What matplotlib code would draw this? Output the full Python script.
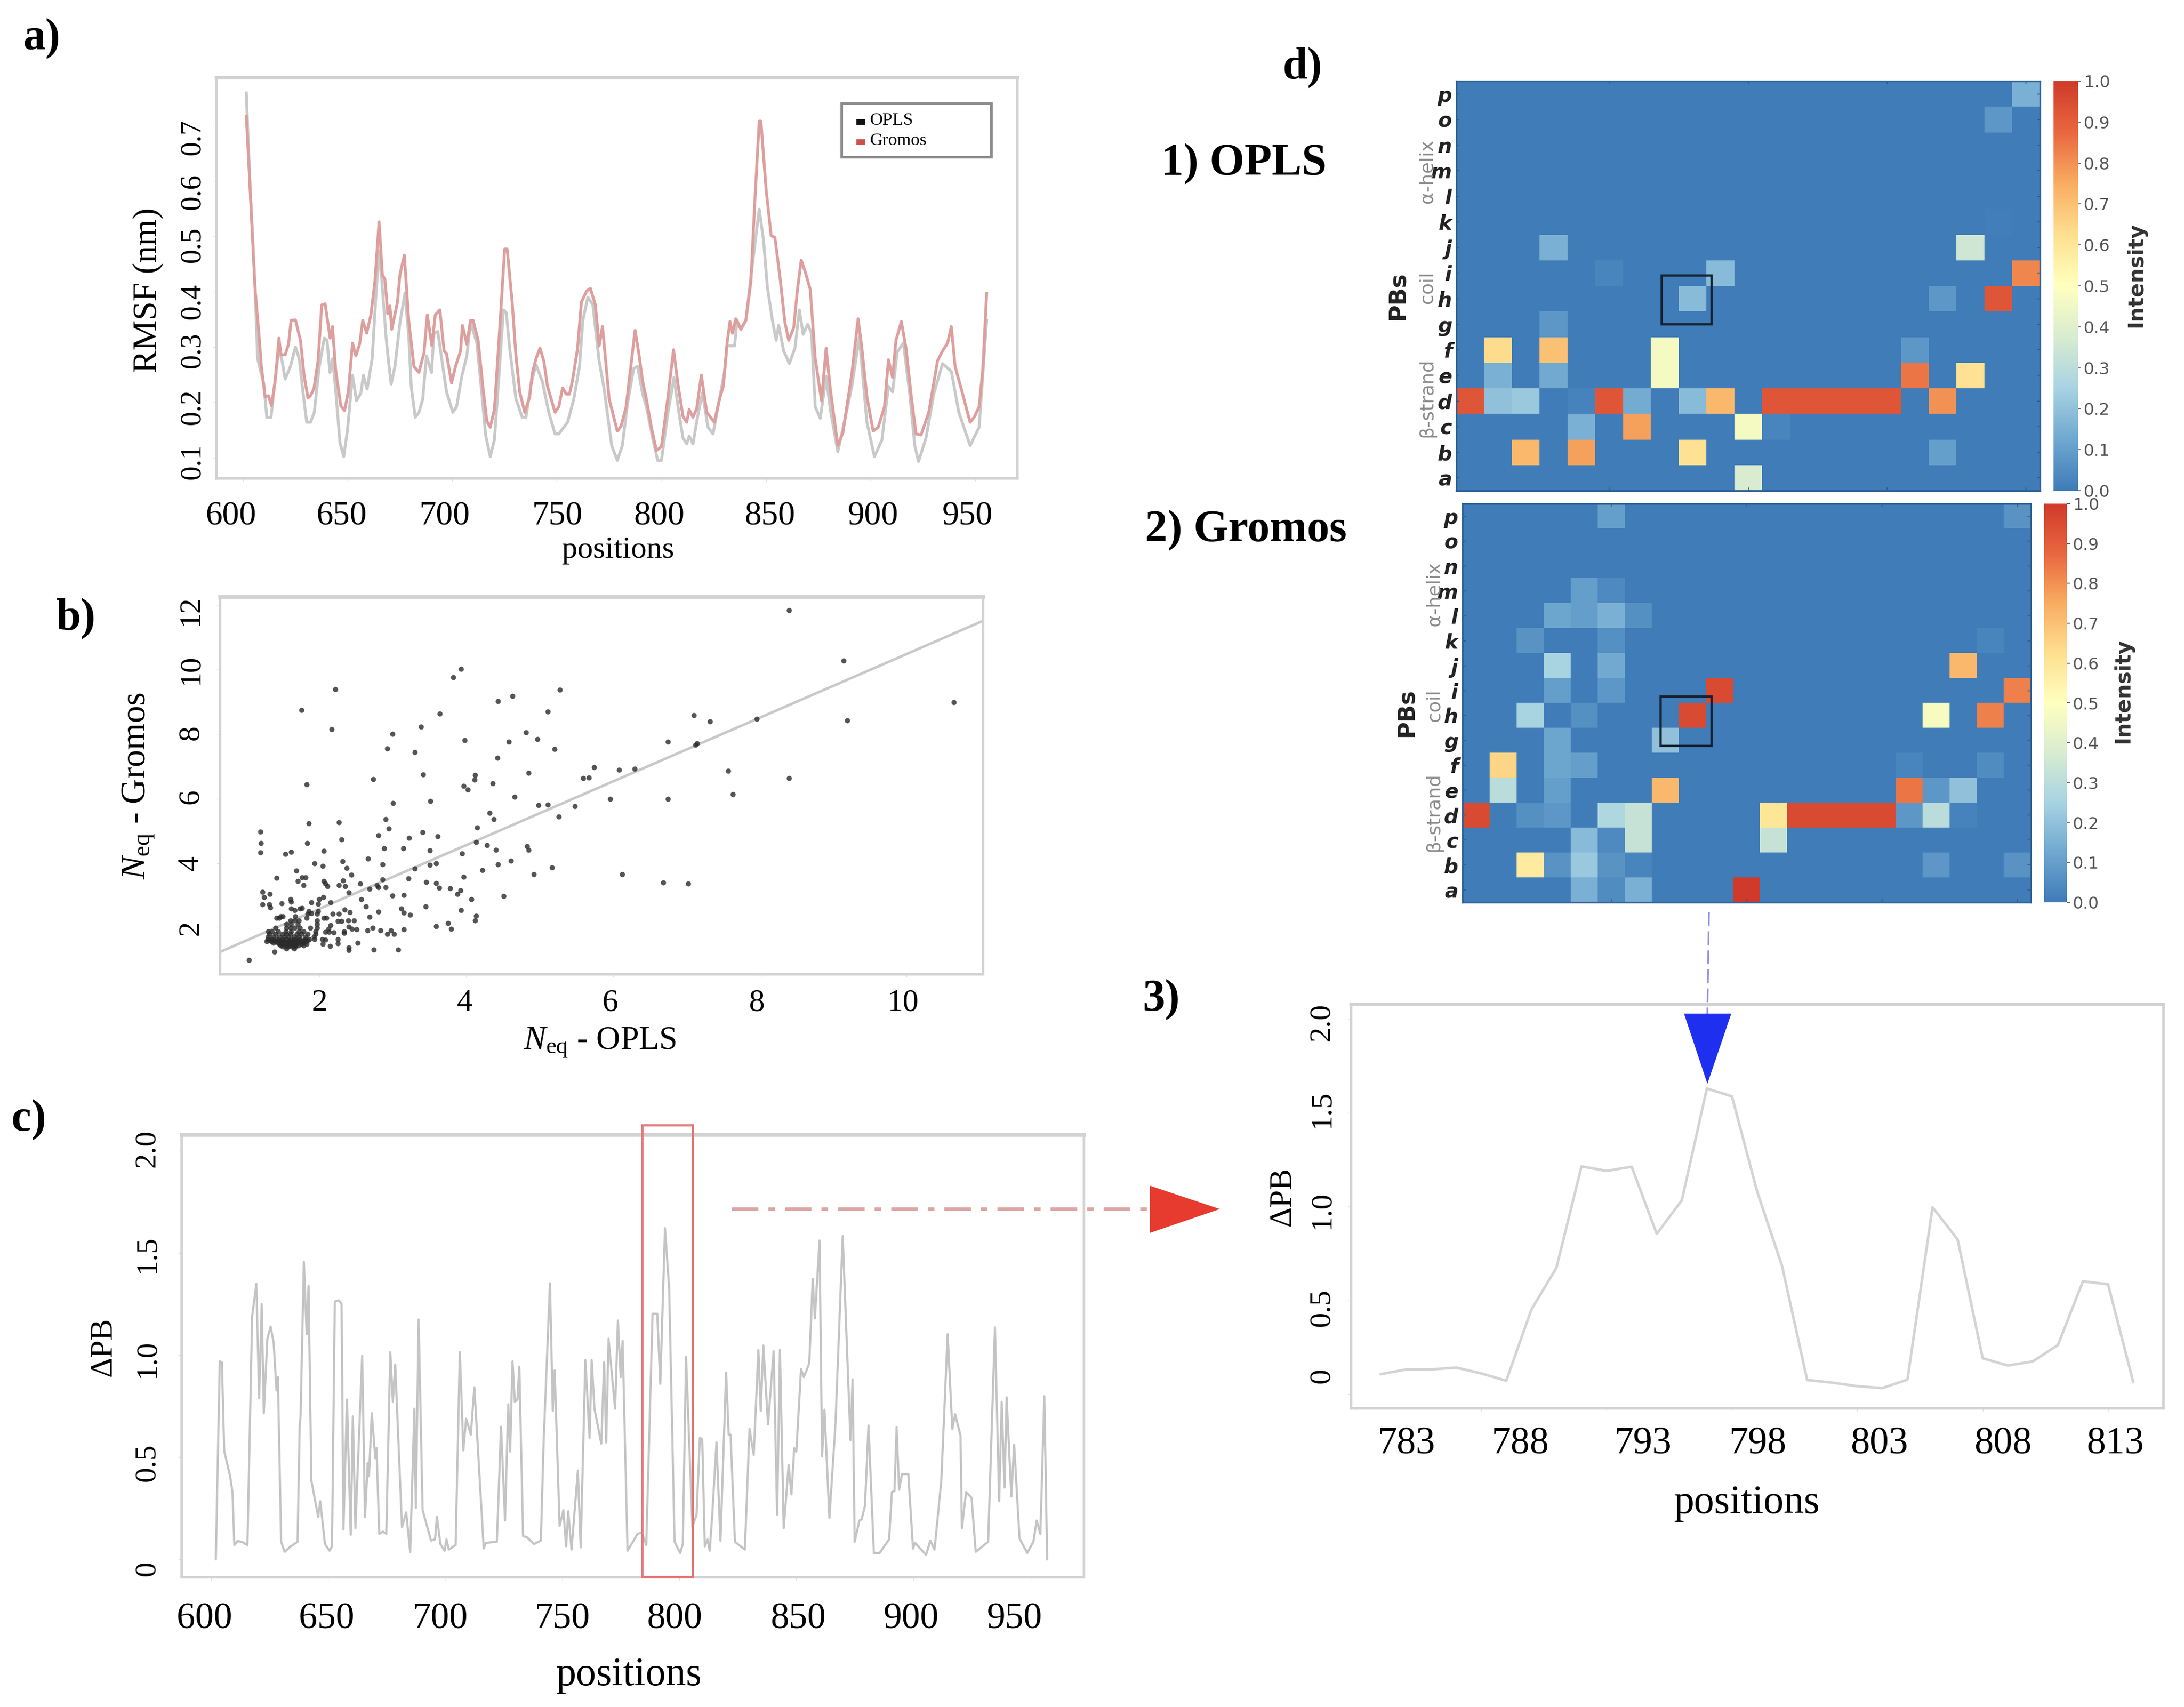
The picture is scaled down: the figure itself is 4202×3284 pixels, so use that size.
import numpy as np
import matplotlib
matplotlib.use('Agg')
import matplotlib.pyplot as plt
from matplotlib.colors import LinearSegmentedColormap
from matplotlib.patches import Polygon, Rectangle

W, H = 4202, 3284

# a) RMSF per position
opls_x = [601.4, 603.2, 605.6, 606.8, 609.8, 611.2, 613.2, 615.2, 617, 618.5, 620, 622.5, 624.9, 626.7, 628.5, 630.3, 632.1, 633.9, 636.3, 638.7, 640, 641.4, 642.7, 644.2, 646.2, 648, 649.8, 652.2, 654.1, 656.2, 657.4, 659.2, 661.6, 663.5, 664.9, 666.2, 668.3, 669.5, 670.7, 672.5, 674.9, 677.3, 679.1, 680.3, 682.2, 684, 685.8, 687.6, 690, 691.2, 693, 695.4, 697.2, 700.2, 702, 704.5, 706.9, 708.7, 711.7, 714.1, 715.9, 718.1, 720.1, 722.5, 724.4, 725.8, 727.4, 730.4, 733.4, 735.2, 737.6, 740, 743, 746.1, 749.1, 750.9, 755.1, 758.1, 760.8, 762.4, 764.8, 767.2, 770.2, 772.6, 776.2, 778.9, 781.3, 783.7, 786.7, 788.6, 791, 792.8, 795.8, 798.2, 800, 803, 806, 808.5, 810.3, 812.1, 813.3, 815.1, 817.5, 819.6, 822.3, 824.7, 827.8, 830.2, 831.4, 835, 836.2, 838, 840.4, 842.8, 846.8, 848.9, 850.7, 853.1, 854.9, 856.1, 858.5, 861.2, 863.9, 866, 867.8, 870, 871.8, 873.6, 876, 878.8, 880.8, 884.4, 887.5, 891.1, 894.7, 898.3, 901.9, 905.5, 908.6, 910.6, 912.8, 915.8, 918.8, 921.2, 923, 926.6, 930.3, 934.5, 938.7, 942.3, 947.7, 952, 955.6]
opls_rmsf = [.759, .588, .404, .279, .233, .173, .173, .242, .298, .275, .242, .265, .300, .279, .219, .164, .164, .182, .265, .316, .312, .254, .279, .219, .127, .102, .150, .249, .203, .217, .249, .224, .279, .399, .473, .422, .316, .272, .233, .265, .344, .397, .321, .229, .173, .182, .206, .284, .254, .325, .328, .265, .219, .182, .192, .247, .284, .344, .307, .215, .141, .102, .132, .261, .367, .362, .298, .206, .173, .173, .233, .268, .238, .182, .143, .143, .164, .206, .265, .348, .390, .376, .275, .224, .122, .095, .122, .196, .261, .265, .215, .192, .136, .095, .095, .178, .245, .178, .136, .125, .139, .125, .178, .217, .155, .143, .206, .256, .302, .302, .348, .332, .348, .427, .549, .491, .408, .348, .312, .339, .293, .270, .298, .367, .323, .341, .325, .192, .171, .247, .187, .111, .164, .229, .318, .164, .102, .132, .229, .219, .291, .307, .215, .122, .093, .136, .215, .270, .256, .182, .122, .155, .348]

gromos_x = [601.4, 603.2, 605.6, 607.4, 608.6, 610.4, 612, 613.4, 615.2, 617, 618, 620, 621.6, 622.8, 624.9, 627.3, 629.1, 630.9, 632.1, 633.7, 635.7, 637.5, 639.1, 641.5, 642.6, 644.2, 646.6, 648.4, 650.2, 652.2, 653.8, 655.6, 657.1, 659, 661, 662.9, 664.9, 666.5, 667.7, 669.1, 670.1, 671, 673.7, 674.9, 677, 679.1, 681.6, 684, 685.4, 686.4, 688, 690.2, 691.8, 694, 696, 697.2, 699.6, 701.5, 703.9, 704.8, 706.9, 708.7, 709.9, 712.3, 714.7, 716.5, 718.1, 720.1, 722.5, 725, 726.2, 728.6, 730.4, 732.2, 734.6, 737, 738.2, 740, 741.9, 743.7, 745.5, 749.1, 750.9, 752.7, 754.5, 756, 757.5, 759.9, 761.7, 764.2, 766, 768.4, 770.2, 771.8, 775, 778.9, 780.7, 783.1, 787.4, 789.2, 791, 792.8, 795.2, 797.6, 800, 803, 805.8, 807.9, 810.3, 812.1, 813.3, 815.1, 816.9, 819.1, 821.7, 823.5, 825.3, 827.8, 829.6, 831.4, 832.8, 834, 835.6, 838, 840.4, 842.8, 844.6, 846.8, 847.6, 850.1, 852.5, 854.3, 856.7, 859.1, 860.9, 863.3, 865.1, 866.9, 868.8, 871.2, 873.6, 876.6, 878.8, 880.8, 884.4, 886.8, 891.1, 894.1, 895.9, 898.3, 901.3, 903.7, 906.7, 908.6, 910.6, 912.2, 914.8, 917, 919.4, 921.8, 924.2, 927.9, 932.1, 934.5, 936.9, 938.7, 940.5, 943.5, 947.7, 949.6, 952, 953.8, 955.6]
gromos_rmsf = [.717, .588, .404, .325, .265, .210, .212, .194, .238, .316, .286, .286, .305, .348, .349, .312, .247, .208, .212, .224, .275, .376, .378, .316, .337, .256, .194, .185, .219, .307, .284, .305, .348, .325, .358, .418, .526, .431, .422, .360, .374, .332, .381, .431, .466, .348, .265, .254, .275, .289, .358, .302, .358, .367, .293, .288, .235, .265, .293, .339, .305, .348, .348, .312, .224, .166, .155, .187, .325, .477, .477, .381, .284, .219, .182, .210, .252, .279, .298, .275, .229, .182, .192, .226, .215, .215, .240, .298, .381, .401, .406, .376, .302, .337, .206, .148, .157, .192, .330, .288, .238, .206, .155, .113, .120, .206, .295, .233, .175, .164, .187, .173, .189, .249, .182, .173, .164, .206, .229, .307, .346, .325, .351, .332, .348, .418, .556, .708, .708, .584, .501, .498, .427, .344, .312, .335, .404, .457, .436, .404, .279, .203, .298, .224, .122, .145, .252, .351, .298, .210, .148, .155, .192, .277, .245, .312, .346, .298, .215, .143, .141, .182, .275, .293, .307, .337, .265, .224, .164, .173, .192, .261, .397]

# b) Neq scatter and its fit line
neq_opls = [8.40, 9.14, 10.64, 9.19, 7.96, 7.10, 7.32, 6.75, 7.14, 7.12, 7.57, 8.40, 7.63, 6.75, 5.96, 6.08, 6.29, 5.74, 5.59, 5.67, 5.48, 5.11, 4.98, 5.26, 5.27, 4.63, 4.43, 5.11, 4.81, 4.97, 4.58, 5.20, 4.42, 4.85, 4.36, 4.12, 4.11, 3.96, 4.02, 4.66, 4.32, 4.37, 4.15, 4.13, 4.28, 4.40, 4.83, 4.85, 3.94, 4.61, 4.43, 4.22, 5.17, 4.92, 6.12, 6.68, 7.02, 3.96, 4.51, 4.07, 3.92, 3.88, 4.13, 4.12, 3.93, 2.21, 1.75, 2.16, 3.93, 3.82, 3.64, 3.38, 2.99, 3.98, 2.92, 3.30, 3.41, 2.73, 1.82, 3.51, 3.00, 2.90, 2.26, 1.85, 2.94, 3.40, 3.61, 2.80, 3.22, 2.30, 1.83, 1.19, 1.20, 1.19,
            1.53, 1.61, 2.06, 2.88, 3.14, 3.50, 2.66, 2.31, 1.93, 2.04, 2.86, 3.50, 3.59, 2.37, 1.68, 2.43, 1.41, 1.76, 1.81, 1.705, 1.78, 2.06, 2.08, 2.11, 2.32, 2.26, 2.35, 2.55, 2.68, 2.78, 2.80, 2.90, 2.86, 3.21, 3.30, 3.45, 3.59, 3.63, 3.78, 2.40, 1.22, 1.32, 1.245, 1.22, 1.315, 1.33, 1.48, 1.60, 1.61, 1.89, 1.98, 1.99, 2.05, 2.15, 2.57, 2.63, 2.80, 2.68, 2.995, 3.145, 3.11, 3.15, 3.23, 3.445,
            1.28, 1.34, 1.40, 1.46, 1.52, 1.575, 1.63, 1.69, 1.75, 1.81, 1.445, 1.50, 1.56, 1.62, 1.68, 1.75, 1.82, 1.50, 1.56, 1.62, 1.67, 1.55, 1.65, 1.29, 1.35, 1.42, 1.49, 1.55, 1.61, 1.67, 1.73, 1.80, 1.86, 1.93, 1.30, 1.37, 1.445, 1.52, 1.575, 1.65, 1.72, 1.81, 1.92, 1.315, 1.40, 1.49, 1.55, 1.60, 1.69, 1.75, 1.835, 1.94, 1.30, 1.35, 1.43, 1.54, 1.61, 1.72, 1.78, 1.94, 1.40, 1.55, 1.60, 1.66, 1.73, 1.87, 1.965, 1.55, 1.61, 1.705, 1.965, 1.60, 1.66, 1.72, 1.965, 1.41, 1.445, 1.82, 2.06, 2.09, 1.50, 1.67, 1.47, 1.835, 1.965, 2.18, 2.26,
            1.61, 1.66, 1.73, 1.76, 1.976, 1.85, 1.89, 2.34, 2.41, 2.25, 2.295, 2.39, 2.47, 2.15, 2.12, 2.08, 2.13, 2.19, 2.335, 2.335, 2.40, 2.44, 2.50, 2.65, 2.725, 2.83, 2.92, 2.97, 3.015, 3.15, 3.59, 3.75, 3.79, 2.035, 2.08, 2.04, 2.14, 2.25, 2.25, 2.52, 2.40, 2.40, 2.74, 3.07, 1.386, 1.04,
            1.32, 1.38, 1.44, 1.5, 1.58, 1.64, 1.70, 1.77, 1.84, 1.37, 1.43, 1.49, 1.54, 1.60, 1.66, 1.72, 1.78, 1.47, 1.53, 1.59, 1.65, 1.71, 1.78]
neq_gromos = [11.84, 10.28, 8.99, 8.42, 8.48, 8.58, 8.40, 7.77, 7.72, 7.67, 6.87, 6.64, 6.14, 5.99, 5.99, 6.89, 6.93, 6.98, 6.64, 6.66, 5.77, 5.81, 5.80, 5.44, 9.38, 9.18, 9.02, 8.70, 8.05, 7.84, 7.76, 7.54, 7.26, 6.80, 6.48, 6.74, 6.59, 6.40, 6.28, 6.06, 5.55, 5.37, 5.10, 4.66, 4.56, 4.42, 4.53, 4.41, 4.30, 4.08, 3.96, 3.78, 3.86, 3.66, 3.66, 3.40, 3.37, 3.58, 2.98, 2.88, 3.15, 3.04, 2.37, 2.22, 2.54, 9.40, 8.74, 8.15, 10.02, 9.77, 8.63, 8.24, 8.01, 7.82, 7.55, 7.45, 6.75, 6.61, 6.44, 5.93, 5.86, 5.36, 5.26, 5.24, 5.07, 4.96, 4.83, 4.87, 4.79, 4.74, 4.62, 4.98, 4.63, 4.34,
              4.28, 4.35, 4.38, 4.47, 4.47, 4.40, 4.14, 4.06, 3.99, 3.92, 3.96, 3.94, 3.99, 3.85, 3.77, 3.64, 3.54, 3.56, 3.56, 3.45, 3.32, 3.45, 3.37, 3.29, 3.47, 3.32, 3.28, 3.37, 3.21, 3.32, 3.25, 3.25, 3.50, 3.53, 3.83, 3.42, 3.39, 3.24, 3.22, 3.10, 3.11, 3.05, 2.94, 2.73, 2.73, 2.63, 2.76, 2.89, 2.81, 2.78, 2.74, 2.89, 2.94, 2.78, 2.89, 2.65, 2.49, 2.33, 2.99, 3.02, 2.59, 2.46, 2.40, 2.66,
              1.57, 1.57, 1.57, 1.57, 1.57, 1.57, 1.57, 1.57, 1.57, 1.57, 1.49, 1.49, 1.49, 1.49, 1.49, 1.49, 1.49, 1.41, 1.41, 1.41, 1.41, 1.35, 1.35, 1.65, 1.65, 1.65, 1.65, 1.65, 1.65, 1.65, 1.65, 1.65, 1.65, 1.65, 1.73, 1.73, 1.73, 1.73, 1.73, 1.73, 1.73, 1.73, 1.73, 1.81, 1.81, 1.81, 1.81, 1.81, 1.81, 1.81, 1.81, 1.81, 1.89, 1.89, 1.89, 1.89, 1.89, 1.89, 1.89, 1.89, 2.00, 2.00, 2.00, 2.00, 2.00, 2.00, 2.00, 2.11, 2.11, 2.11, 2.11, 2.22, 2.22, 2.22, 2.22, 2.30, 2.30, 2.30, 2.30, 2.30, 2.35, 2.35, 2.35, 2.43, 2.43, 2.43, 2.43,
              2.59, 2.54, 2.59, 2.61, 2.52, 2.51, 2.45, 2.56, 2.48, 2.21, 2.21, 2.22, 2.23, 2.08, 1.97, 1.87, 1.87, 1.85, 1.89, 1.84, 2.03, 1.97, 1.95, 1.91, 2.00, 1.91, 1.81, 1.92, 1.80, 1.95, 2.04, 2.14, 1.97, 1.65, 1.62, 1.49, 1.44, 1.64, 1.52, 1.53, 1.38, 1.30, 1.32, 1.32, 1.26, 1.00,
              1.61, 1.61, 1.61, 1.61, 1.61, 1.61, 1.61, 1.61, 1.61, 1.53, 1.53, 1.53, 1.53, 1.53, 1.53, 1.53, 1.53, 1.45, 1.45, 1.45, 1.45, 1.45, 1.45]
fit_x = [0.64, 11.04]
fit_y = [1.247, 11.51]

# c) delta PB along the sequence
dpb_x = [602.1, 603.8, 604.7, 605.7, 608.2, 609.2, 610, 611.5, 613.5, 615.6, 617.6, 619.4, 620.6, 621.7, 622.6, 624.1, 625.5, 626.8, 628, 628.6, 630, 631.5, 634.1, 637, 637.9, 638.3, 639.7, 640.9, 641.7, 642.9, 645.8, 646.7, 648.7, 650.7, 651.7, 652.9, 654.6, 655.8, 656.6, 658.1, 659.7, 660.6, 661.7, 664.6, 665.8, 667, 667.5, 668.7, 670.2, 670.7, 671.9, 673.4, 674.9, 676.6, 677.7, 678.7, 681.6, 683.4, 685.1, 686.9, 687.5, 688.7, 690.4, 694, 695.7, 696.5, 698, 699.8, 700.6, 701.6, 704.5, 706.3, 707.8, 709, 711, 712.5, 716.5, 717.4, 722.1, 723.9, 725.6, 727, 727.8, 728.8, 729.8, 730.9, 731.7, 733.3, 735, 738, 740.9, 742.1, 744.8, 746, 746.8, 748.9, 750.5, 751.7, 752.6, 754, 756.7, 757.9, 759.9, 761.7, 762.6, 763.8, 766.7, 767.9, 768.8, 769.8, 772.6, 773.8, 775, 775.8, 777.9,
         782.2, 784, 785.9, 788.6, 790.6, 791.9, 793.9, 795.7, 798, 800.4, 801.5, 802.9, 805.6, 807.4, 808.8, 809.8, 810.9, 812.1, 813, 814.1, 815.9, 817.6, 820, 821.1, 821.9, 823.8, 828, 830, 831.8, 833.8, 834.8, 835.9, 837.9, 840.3, 841.8, 843, 844.6, 846.7, 847.9, 849.1, 850, 852, 853.2, 855.5, 857, 857.9, 859.9, 861, 862, 864.1, 866.7, 869.8, 873.1, 874, 874.9, 876.9, 877.9, 879.3, 880.8, 883.1, 885.5, 889.6, 890.8, 891.9, 892.8, 893.9, 895.1, 897.8, 899.8, 900.7, 905.4, 907.2, 909, 911.9, 914.6, 916.6, 917.8, 920.1, 920.7, 922.5, 924.8, 926.6, 931.9, 934.8, 936.6, 937.7, 938.9, 939.8, 941.8, 943, 945.3, 948.6, 951.2, 952.6, 954.2, 955.9, 957.1]
dpb_y = [0, .97, .965, .53, .407, .33, .07, .09, .084, .07, 1.19, 1.35, .79, 1.25, .716, 1.08, 1.14, 1.06, .827, .893, .086, .037, .064, .086, .65, .705, 1.457, 1.103, 1.34, .385, .208, .285, .075, .042, .064, 1.263, 1.269, 1.252, .147, .783, .12, .70, .153, .998, .208, .473, .407, .716, .495, .545, .125, .136, .125, 1.015, .772, .954, .158, .23, .036, .738, .252, 1.175, .241, .092, .098, .208, .075, .042, .098, .048, .07, 1.015, .534, .689, .611, .843, .053, .081, .086, .65, .19, .76, .528, .97, .772, .783, .943, .114, .108, .075, .092, .584, 1.352, .727, .926, .164, .241, .064, .236, .048, .434, .059, .976, .595, .976, .738, .567, .965, .573, 1.081, .738, 1.17, .893, 1.07, .042,
         .125, .131, .07, 1.203, 1.203, .86, 1.622, 1.324, .086, .031, .075, .992, .158, .219, .595, .589, .064, .097, .042, .219, .573, .092, .915, .611, .611, .086, .048, .639, .512, 1.026, .727, 1.048, .661, 1.02, .219, 1.026, .153, .462, .318, .545, .528, .932, .893, .96, 1.374, 1.18, 1.562, .506, .733, .203, .661, 1.584, .584, .882, .086, .19, .196, .263, .656, .031, .031, .098, .33, .335, .647, .341, .418, .418, .053, .081, .022, .092, .048, .385, 1.103, .639, .711, .606, .153, .33, .302, .037, .086, 1.136, .285, .772, .352, .794, .308, .562, .103, .031, .086, .19, .125, .799, 0]
window_x = [784.2, 805.9]
window_y = [-0.0865, 2.125]

# d3) zoom on the window
zoom_pos = list(range(784, 815))
zoom_dpb = [.107, .132, .132, .142, .111, .072, .451, .674, 1.214, 1.19, 1.212, .855, 1.033, 1.629, 1.587, 1.082, .683, .076, .062, .043, .033, .078, .996, .825, .192, .153, .175, .262, .602, .586, .068]

# d1, d2) PB transition maps, rows a to p
pb_letters = list('abcdefghijklmnop')
opls_map = [
    [0, 0, 0, 0, 0, 0, 0, 0, 0, 0, .38, 0, 0, 0, 0, 0, 0, 0, 0, 0, 0],
    [0, 0, .72, 0, .77, 0, 0, 0, .62, 0, 0, 0, 0, 0, 0, 0, 0, .1, 0, 0, 0],
    [0, 0, 0, 0, .15, 0, .77, 0, 0, 0, .47, .03, 0, 0, 0, 0, 0, 0, 0, 0, 0],
    [.92, .2, .22, 0, .02, .92, .14, 0, .18, .72, 0, .92, .92, .92, .92, .92, 0, .8, 0, 0, 0],
    [0, .15, 0, .13, 0, 0, 0, .47, 0, 0, 0, 0, 0, 0, 0, 0, .85, 0, .62, 0, 0],
    [0, .63, 0, .7, 0, 0, 0, .47, 0, 0, 0, 0, 0, 0, 0, 0, .08, 0, 0, 0, 0],
    [0, 0, 0, .08, 0, 0, 0, 0, 0, 0, 0, 0, 0, 0, 0, 0, 0, 0, 0, 0, 0],
    [0, 0, 0, 0, 0, 0, 0, 0, .18, 0, 0, 0, 0, 0, 0, 0, 0, .08, 0, .92, 0],
    [0, 0, 0, 0, 0, .03, 0, 0, 0, .18, 0, 0, 0, 0, 0, 0, 0, 0, 0, 0, .82],
    [0, 0, 0, .15, 0, 0, 0, 0, 0, 0, 0, 0, 0, 0, 0, 0, 0, 0, .35, 0, 0],
    [0, 0, 0, 0, 0, 0, 0, 0, 0, 0, 0, 0, 0, 0, 0, 0, 0, 0, 0, .01, 0],
    [0, 0, 0, 0, 0, 0, 0, 0, 0, 0, 0, 0, 0, 0, 0, 0, 0, 0, 0, 0, 0],
    [0, 0, 0, 0, 0, 0, 0, 0, 0, 0, 0, 0, 0, 0, 0, 0, 0, 0, 0, 0, 0],
    [0, 0, 0, 0, 0, 0, 0, 0, 0, 0, 0, 0, 0, 0, 0, 0, 0, 0, 0, 0, 0],
    [0, 0, 0, 0, 0, 0, 0, 0, 0, 0, 0, 0, 0, 0, 0, 0, 0, 0, 0, .08, 0],
    [0, 0, 0, 0, 0, 0, 0, 0, 0, 0, 0, 0, 0, 0, 0, 0, 0, 0, 0, 0, .15],
]
gromos_map = [
    [0, 0, 0, 0, .15, .05, .15, 0, 0, 0, 1, 0, 0, 0, 0, 0, 0, 0, 0, 0, 0],
    [0, 0, .58, .07, .22, .07, .03, 0, 0, 0, 0, 0, 0, 0, 0, 0, 0, .08, 0, 0, .07],
    [0, 0, 0, 0, .18, .04, .33, 0, 0, 0, 0, .33, 0, 0, 0, 0, 0, 0, 0, 0, 0],
    [.95, 0, .06, .08, 0, .27, .33, 0, 0, 0, 0, .6, .95, .95, .95, .95, .08, .3, .02, 0, 0],
    [0, .3, 0, .1, 0, 0, 0, .72, 0, 0, 0, 0, 0, 0, 0, 0, .85, .08, .2, 0, 0],
    [0, .65, 0, .12, .1, 0, 0, 0, 0, 0, 0, 0, 0, 0, 0, 0, .03, 0, 0, .05, 0],
    [0, 0, 0, .12, 0, 0, 0, .2, 0, 0, 0, 0, 0, 0, 0, 0, 0, 0, 0, 0, 0],
    [0, 0, .25, 0, .06, 0, 0, 0, .95, 0, 0, 0, 0, 0, 0, 0, 0, .48, 0, .83, 0],
    [0, 0, 0, .1, 0, .08, 0, 0, 0, .95, 0, 0, 0, 0, 0, 0, 0, 0, 0, 0, .83],
    [0, 0, 0, .25, 0, .13, 0, 0, 0, 0, 0, 0, 0, 0, 0, 0, 0, 0, .72, 0, 0],
    [0, 0, .07, 0, 0, .06, 0, 0, 0, 0, 0, 0, 0, 0, 0, 0, 0, 0, 0, .03, 0],
    [0, 0, 0, .12, .1, .15, .06, 0, 0, 0, 0, 0, 0, 0, 0, 0, 0, 0, 0, 0, 0],
    [0, 0, 0, 0, .1, .04, 0, 0, 0, 0, 0, 0, 0, 0, 0, 0, 0, 0, 0, 0, 0],
    [0, 0, 0, 0, 0, 0, 0, 0, 0, 0, 0, 0, 0, 0, 0, 0, 0, 0, 0, 0, 0],
    [0, 0, 0, 0, 0, 0, 0, 0, 0, 0, 0, 0, 0, 0, 0, 0, 0, 0, 0, 0, 0],
    [0, 0, 0, 0, 0, .1, 0, 0, 0, 0, 0, 0, 0, 0, 0, 0, 0, 0, 0, 0, .07],
]
cbar_ticks = [0, .1, .2, .3, .4, .5, .6, .7, .8, .9, 1]

# labels sit away from their ticks in the original, so they go on by hand
a_xticks = [600, 650, 700, 750, 800, 850, 900, 950]
a_yticks = [.1, .2, .3, .4, .5, .6, .7]
b_xticks = [2, 4, 6, 8, 10]
b_yticks = [2, 4, 6, 8, 10, 12]
c_xticks = [600, 650, 700, 750, 800, 850, 900, 950]
dpb_ticks = [0, .5, 1, 1.5, 2]
zoom_xticks = [783, 788, 793, 798, 803, 808, 813]

GRAY = '#c9c9c9'
PINK = '#dd9f9d'
FRAME = '#d2d2d2'
SERIF = 'Liberation Serif'

plt.rcParams['font.family'] = SERIF
plt.rcParams['mathtext.fontset'] = 'custom'
plt.rcParams['mathtext.rm'] = SERIF
plt.rcParams['mathtext.it'] = SERIF + ':italic'

fig = plt.figure(figsize=(W / 200, H / 200), dpi=200, facecolor='white')


def px_axes(left, top, right, bottom):
    return fig.add_axes([left / W, 1 - bottom / H, (right - left) / W, (bottom - top) / H])


def frame(ax, xlim, ylim, xticks, yticks):
    ax.set_xlim(*xlim)
    ax.set_ylim(*ylim)
    ax.set_xticks(xticks)
    ax.set_yticks(yticks)
    ax.tick_params(labelbottom=False, labelleft=False, length=2, width=0.5, color='#dddddd')
    for s in ax.spines.values():
        s.set_color(FRAME)
        s.set_linewidth(1.7)
    ax.spines['top'].set_linewidth(2.5)


# a)
ax_a = px_axes(416, 149, 1957, 920)
frame(ax_a, (587, 970.2), (.063, .787), a_xticks, a_yticks)
ax_a.plot(opls_x, opls_rmsf, color=GRAY, lw=2)
ax_a.plot(gromos_x, gromos_rmsf, color=PINK, lw=2)

# b)
ax_b = px_axes(423, 1148, 1891, 1874)
frame(ax_b, (.64, 11.04), (.563, 12.26), b_xticks, b_yticks)
ax_b.plot(fit_x, fit_y, color=GRAY, lw=1.8, zorder=1)
ax_b.scatter(neq_opls, neq_gromos, s=13, color='#2a2a2a', alpha=.8, linewidths=0, zorder=2)

# c)
ax_c = px_axes(349, 2183, 2085, 3034)
frame(ax_c, (587.4, 972.7), (-.0865, 2.08), c_xticks, dpb_ticks)
ax_c.plot(dpb_x, dpb_y, color='#c4c4c4', lw=1.5)
ax_c.add_patch(Rectangle((window_x[0], window_y[0]), window_x[1] - window_x[0], window_y[1] - window_y[0],
                         fill=False, ec='#e17a78', lw=1.6, clip_on=False, zorder=4))

# d3)
ax_z = px_axes(2599, 1932, 4162, 2709)
frame(ax_z, (782.8, 815.2), (-.074, 2.078), zoom_xticks, dpb_ticks)
ax_z.plot(zoom_pos, zoom_dpb, color='#d4d4d4', lw=1.8)

# heat maps
pb_cmap = LinearSegmentedColormap.from_list(
    'pb', ['#3f7cb8', '#6fa8d0', '#a8d3e2', '#d8ecd0', '#ffffbf', '#fee090', '#f9ad62', '#e8683f', '#cf3a2b'])


def heatmap(grid, box, cbar_box, mark):
    ax = px_axes(*box)
    im = ax.imshow(np.array(grid), origin='lower', cmap=pb_cmap, vmin=0, vmax=1, aspect='auto',
                   interpolation='nearest', extent=(0, 21, 0, 16))
    ax.set_yticks(np.arange(16) + .5)
    ax.set_yticklabels(pb_letters, family='DejaVu Sans', style='italic', weight='bold', fontsize=14, color='#222222')
    ax.set_xticks([5.5, 10.5, 15.5, 20.5])
    ax.tick_params(axis='x', labelbottom=False, top=True, direction='in', length=2, width=.6, color='#2b5a8c')
    ax.tick_params(axis='y', right=True, direction='in', length=2, width=.6, color='#2b5a8c', pad=3)
    for s in ax.spines.values():
        s.set_color('#2f6296')
        s.set_linewidth(1.2)
    ax.add_patch(Rectangle((mark[0], mark[1]), mark[2], mark[3], fill=False, ec='#14202e', lw=1.6))
    cax = px_axes(*cbar_box)
    cb = fig.colorbar(im, cax=cax, ticks=cbar_ticks)
    cb.ax.set_yticklabels(['%.1f' % t for t in cbar_ticks], family='DejaVu Sans', fontsize=11.5, color='#555555')
    cb.ax.tick_params(length=2, width=.6, color='#555555', pad=2)
    cb.outline.set_visible(False)


heatmap(opls_map, (2802, 156, 3925, 944), (3951, 156, 3998, 944), (7.39, 6.49, 1.79, 1.91))
heatmap(gromos_map, (2814, 969, 3907, 1736), (3933, 969, 3977, 1736), (7.32, 6.28, 1.88, 1.98))

# everything placed by picture position goes on one overlay
ov = fig.add_axes([0, 0, 1, 1], zorder=10)
ov.set_xlim(0, W)
ov.set_ylim(H, 0)
ov.axis('off')


def label(x, y, s, size, rot=0, **kw):
    ov.text(x, y, s, fontsize=size, rotation=rot, ha='center', va='center', **kw)


for x, y, s in [(80, 74, 'a)'), (146, 1190, 'b)'), (55, 2154, 'c)'), (2506, 130, 'd)'), (2393, 315, '1) OPLS'),
                (2397, 1020, '2) Gromos'), (2234, 1923, '3)')]:
    label(x, y, s, 31, weight='bold')

for x, v in zip([444, 657, 856, 1072, 1268, 1481, 1680, 1862], a_xticks):
    label(x, 993, str(v), 23.4)
for y, v in zip([887, 782, 673, 579, 470, 368, 263], a_yticks):
    label(370, y, '%.1f' % v, 20, rot=90)
label(285, 558, 'RMSF (nm)', 23.5, rot=90)
label(1189, 1059, 'positions', 21.5)

# legend of a)
ov.add_patch(Rectangle((1619, 199), 288, 103, fc='white', ec='#8c8c8c', lw=1.8))
ov.plot([1647, 1664], [234, 234], color='#111111', lw=4, solid_capstyle='butt')
ov.plot([1647, 1664], [273, 273], color='#c9504c', lw=4, solid_capstyle='butt')
ov.text(1674, 232, 'OPLS', fontsize=12.3, va='center')
ov.text(1674, 271, 'Gromos', fontsize=12.3, va='center')

for x, v in zip([615, 894, 1174, 1456, 1737], b_xticks):
    label(x, 1930, str(v), 22)
for y, v in zip([1785, 1660, 1532, 1409, 1288, 1174], b_yticks):
    label(367, y, str(v), 21, rot=90)
label(1154, 2006, r'$\mathit{N}_{\mathrm{eq}}$ - OPLS', 23)
label(267, 1512, r'$\mathit{N}_{\mathrm{eq}}$ - Gromos', 24, rot=90)

for x, v in zip([393, 628, 847, 1082, 1298, 1536, 1753, 1952], c_xticks):
    label(x, 3115, str(v), 25.6)
for y, s in zip([3017, 2813, 2613, 2413, 2209], ['0', '0.5', '1.0', '1.5', '2.0']):
    label(283, y, s, 21, rot=90)
label(199, 2591, 'ΔPB', 22, rot=90)
label(1210, 3223, 'positions', 28)

for x, v in zip([2706, 2925, 3161, 3382, 3616, 3854, 4070], zoom_xticks):
    label(x, 2779, str(v), 26.6)
for y, s in zip([2646, 2516, 2327, 2134, 1966], ['0', '0.5', '1.0', '1.5', '2.0']):
    label(2543, y, s, 21, rot=90)
label(2468, 2302, 'ΔPB', 22, rot=90)
label(3361, 2892, 'positions', 28)

# heat map side texts
for x_g, x_p, x_i, ys, y_i in [(2746, 2689, 4110, (329, 553, 765, 568), 529),
                               (2759, 2706, 4085, (1142, 1357, 1562, 1370), 1329)]:
    for y, s in zip(ys[:3], ['α-helix', 'coil', 'β-strand']):
        label(x_g, y, s, 13, rot=90, family='DejaVu Sans', color='#8a8a8a', zorder=0)
    label(x_p, ys[3], 'PBs', 16, rot=90, family='DejaVu Sans', weight='bold', color='#222222')
    label(x_i, y_i, 'Intensity', 14.5, rot=90, family='DejaVu Sans', weight='bold', color='#333333')

# arrows between the panels
ov.plot([1408, 2212], [2326, 2326], color='#dca5a4', lw=2.3, ls=(0, (8, 3, 2, 3)))
ov.add_patch(Polygon([(2212, 2281), (2212, 2372), (2347, 2326)], fc='#e63b2e', ec='none'))
ov.plot([3288, 3285], [1755, 1950], color='#8f8fe6', lw=1.2, ls=(0, (8, 3)))
ov.add_patch(Polygon([(3240, 1950), (3331, 1950), (3285, 2085)], fc='#1f2ff0', ec='none'))

fig.savefig('out.png', dpi=200, facecolor='white')
